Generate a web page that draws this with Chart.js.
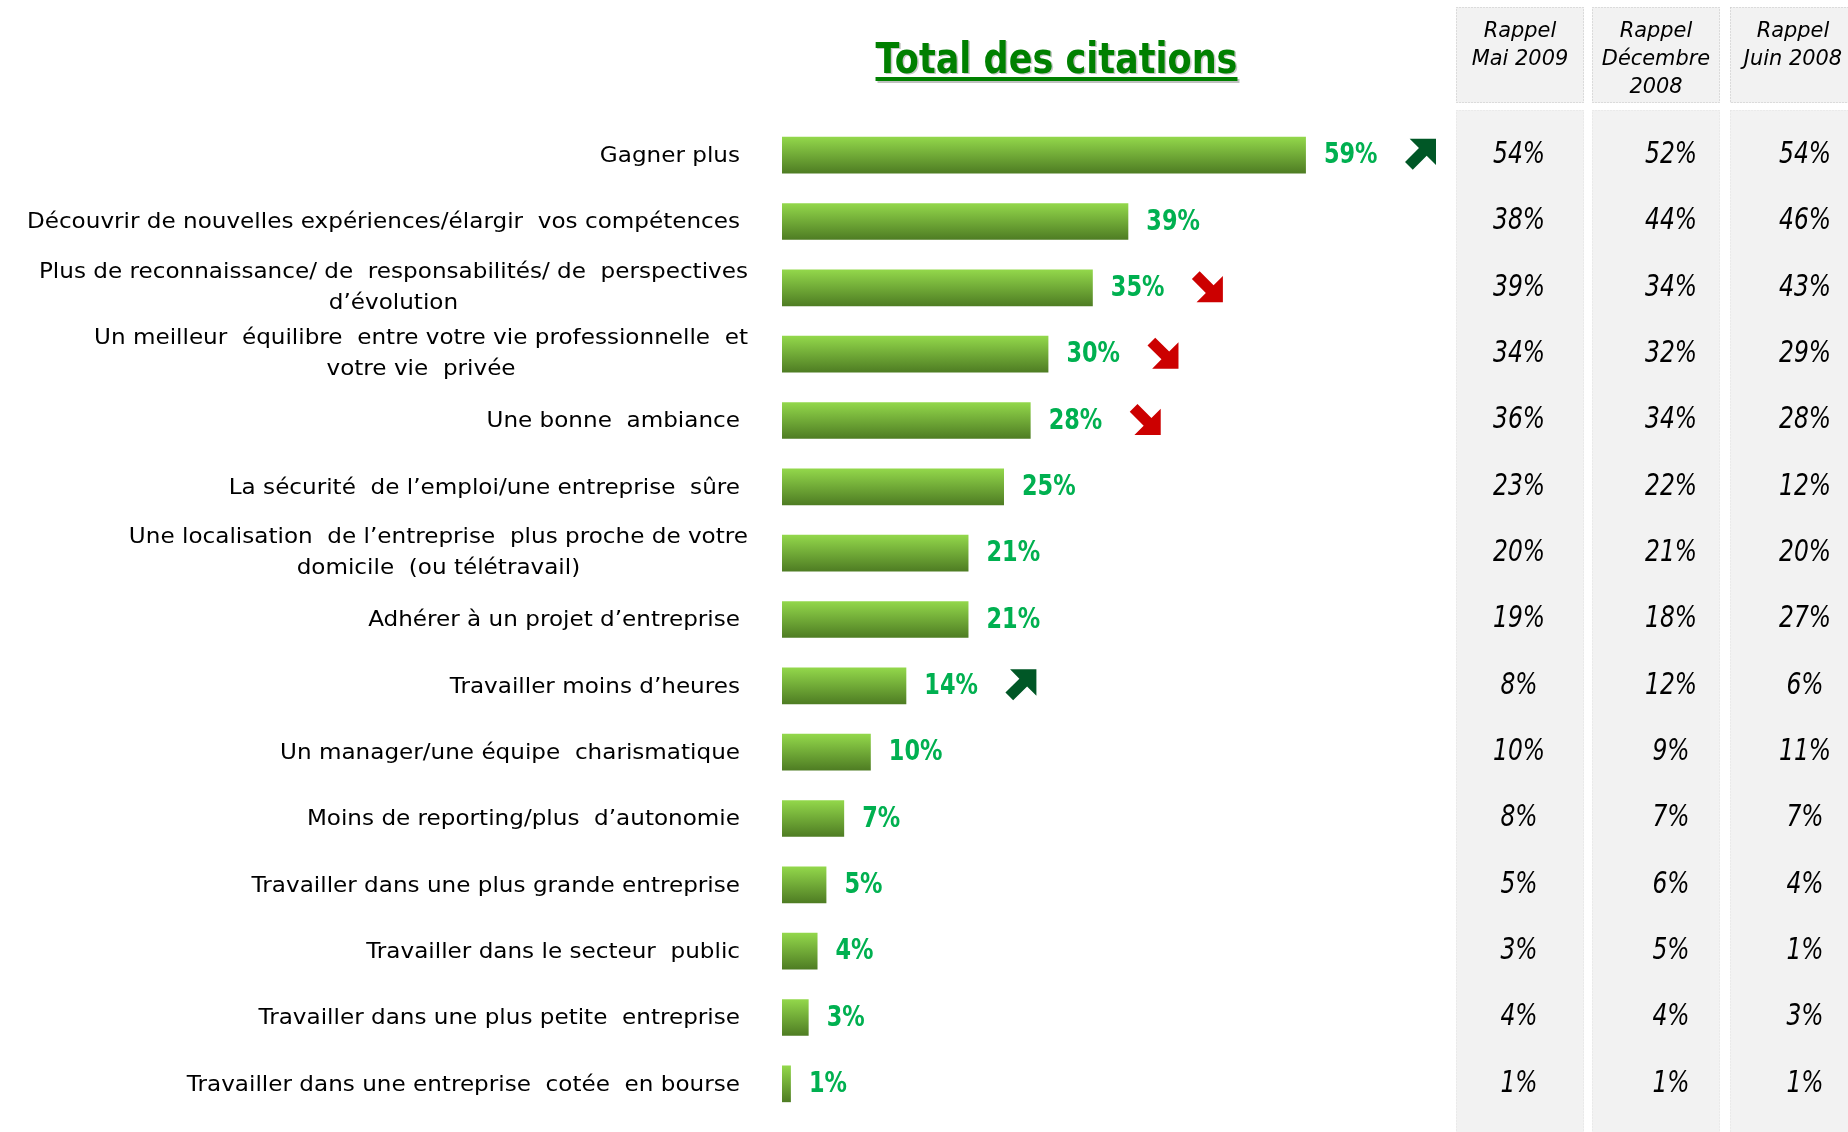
<!DOCTYPE html>
<html>
<head>
<meta charset="utf-8">
<script src="https://cdn.jsdelivr.net/npm/chart.js@4.4.1/dist/chart.umd.min.js"></script>
<style>
html,body{margin:0;padding:0;background:#fff;}
#wrap{width:1848px;height:1132px;position:relative;}
</style>
</head>
<body>
<div id="wrap"><canvas id="c" width="1848" height="1132"></canvas></div>
<script>
const chartTitle = 'Total des citations';
const categories = [
  'Gagner plus',
  'Découvrir de nouvelles expériences/élargir  vos compétences',
  ['Plus de reconnaissance/ de  responsabilités/ de  perspectives', 'd’évolution'],
  ['Un meilleur  équilibre  entre votre vie professionnelle  et', 'votre vie  privée'],
  'Une bonne  ambiance',
  'La sécurité  de l’emploi/une entreprise  sûre',
  ['Une localisation  de l’entreprise  plus proche de votre', 'domicile  (ou télétravail)'],
  'Adhérer à un projet d’entreprise',
  'Travailler moins d’heures',
  'Un manager/une équipe  charismatique',
  'Moins de reporting/plus  d’autonomie',
  'Travailler dans une plus grande entreprise',
  'Travailler dans le secteur  public',
  'Travailler dans une plus petite  entreprise',
  'Travailler dans une entreprise  cotée  en bourse'
];
const totalCitations = [59, 39, 35, 30, 28, 25, 21, 21, 14, 10, 7, 5, 4, 3, 1];
const trends = ['up', null, 'down', 'down', 'down', null, null, null, 'up', null, null, null, null, null, null];
const tableHeaders = [['Rappel', 'Mai 2009'], ['Rappel', 'Décembre', '2008'], ['Rappel', 'Juin 2008']];
const rappelMai2009 = [54, 38, 39, 34, 36, 23, 20, 19, 8, 10, 8, 5, 3, 4, 1];
const rappelDecembre2008 = [52, 44, 34, 32, 34, 22, 21, 18, 12, 9, 7, 6, 5, 4, 1];
const rappelJuin2008 = [54, 46, 43, 29, 28, 12, 20, 27, 6, 11, 7, 4, 1, 3, 1];
const tableColumns = [rappelMai2009, rappelDecembre2008, rappelJuin2008];

const BAR_PCT = 0.553;

function drawText(ctx, s, x, y, font, color, align, sx, baseline) {
  ctx.save();
  ctx.font = font;
  ctx.fillStyle = color;
  ctx.textBaseline = baseline || 'middle';
  ctx.textAlign = 'left';
  const w = ctx.measureText(s).width * sx;
  const left = align === 'right' ? x - w : (align === 'center' ? x - w / 2 : x);
  ctx.translate(left, y);
  ctx.scale(sx, 1);
  ctx.fillText(s, 0, 0);
  ctx.restore();
  return { left: left, right: left + w, width: w };
}

function drawArrow(ctx, cx, cy, dir, color) {
  const s = 31 / 28.3;
  const pts = [[-18, -5], [0, -5], [0, -17], [17, 0], [0, 17], [0, 5], [-18, 5]];
  const ang = dir === 'up' ? -Math.PI / 4 : Math.PI / 4;
  ctx.save();
  ctx.translate(cx + 2.1 * s, cy + (dir === 'up' ? -2.1 : 2.1) * s);
  ctx.rotate(ang);
  ctx.scale(s, s);
  ctx.beginPath();
  pts.forEach((p, i) => i ? ctx.lineTo(p[0], p[1]) : ctx.moveTo(p[0], p[1]));
  ctx.closePath();
  ctx.fillStyle = color;
  ctx.fill();
  ctx.restore();
}

const decorPlugin = {
  id: 'decor',
  beforeDatasetsDraw(chart) {
    const ctx = chart.ctx;
    const yScale = chart.scales.y;
    // table boxes
    const cols = [[1456, 1584], [1592, 1720], [1730, 1860]];
    ctx.save();
    cols.forEach(c => {
      ctx.fillStyle = '#f2f2f2';
      ctx.fillRect(c[0], 7, c[1] - c[0], 96);
      ctx.fillRect(c[0], 110, c[1] - c[0], 1040);
      ctx.setLineDash([1, 2]);
      ctx.lineWidth = 1;
      ctx.strokeStyle = '#c4c4c4';
      ctx.strokeRect(c[0] + 0.5, 7.5, c[1] - c[0] - 1, 95);
      ctx.strokeStyle = '#e2e2e2';
      ctx.strokeRect(c[0] + 0.5, 110.5, c[1] - c[0] - 1, 1040);
    });
    ctx.restore();
    // headers
    const headX = [1520, 1656, 1793];
    tableHeaders.forEach((lines, ci) => {
      lines.forEach((ln, li) => {
        drawText(ctx, ln, headX[ci], 36.5 + li * 28.3, 'oblique 22px "DejaVu Sans"', '#000', 'center', 0.95, 'alphabetic');
      });
    });
    // values
    const valX = [1519, 1671, 1805];
    tableColumns.forEach((col, ci) => {
      col.forEach((v, i) => {
        const y = yScale.getPixelForValue(i);
        drawText(ctx, v + '%', valX[ci], y, 'oblique 30px "DejaVu Sans"', '#000', 'center', 0.78);
      });
    });
    // category labels
    const font = '22px "DejaVu Sans"';
    const sx = 1.05;
    categories.forEach((lab, i) => {
      const y = yScale.getPixelForValue(i);
      if (Array.isArray(lab)) {
        ctx.font = font;
        const maxW = Math.max.apply(null, lab.map(l => ctx.measureText(l).width)) * sx;
        const cxl = 748 - maxW / 2;
        const lh = 31;
        lab.forEach((l, li) => {
          drawText(ctx, l, cxl, y + (li - (lab.length - 1) / 2) * lh, font, '#000', 'center', sx);
        });
      } else {
        drawText(ctx, lab, 740, y + 1, font, '#000', 'right', sx);
      }
    });
    // title
    drawText(ctx, chartTitle, 1058, 74, 'bold 42px "DejaVu Sans"', '#c8c8c8', 'center', 0.835, 'alphabetic');
    const t = drawText(ctx, chartTitle, 1056.5, 72.5, 'bold 42px "DejaVu Sans"', '#008000', 'center', 0.835, 'alphabetic');
    ctx.fillStyle = '#c0c0c0';
    ctx.fillRect(t.left + 2, 79, t.width, 4);
    ctx.fillStyle = '#008000';
    ctx.fillRect(t.left, 77, t.width, 4);
  },
  afterDatasetsDraw(chart) {
    const ctx = chart.ctx;
    const meta = chart.getDatasetMeta(0);
    meta.data.forEach((bar, i) => {
      const r = drawText(ctx, totalCitations[i] + '%', bar.x + 18, bar.y + 1, 'bold 28px "DejaVu Sans"', '#00b050', 'left', 0.8);
      if (trends[i]) {
        drawArrow(ctx, r.right + 28 + 15, bar.y - 1, trends[i], trends[i] === 'up' ? '#005726' : '#cc0000');
      }
    });
  }
};

new Chart(document.getElementById('c'), {
  type: 'bar',
  data: {
    labels: categories,
    datasets: [{
      data: totalCitations,
      borderWidth: 0,
      barPercentage: BAR_PCT,
      categoryPercentage: 1,
      backgroundColor: (c) => {
        const chart = c.chart;
        const ys = chart.scales && chart.scales.y;
        if (!chart.chartArea || !ys || c.dataIndex === undefined) return '#76b83a';
        const cy = ys.getPixelForValue(c.dataIndex);
        const band = Math.abs(ys.getPixelForValue(1) - ys.getPixelForValue(0));
        const h = band * BAR_PCT / 2;
        const g = chart.ctx.createLinearGradient(0, cy - h, 0, cy + h);
        g.addColorStop(0, '#93d84b');
        g.addColorStop(1, '#4e7c23');
        return g;
      }
    }]
  },
  options: {
    indexAxis: 'y',
    responsive: false,
    animation: false,
    layout: { padding: { left: 782, right: 400, top: 122, bottom: 15 } },
    scales: {
      x: { display: false, min: 0, max: 75 },
      y: { display: false }
    },
    plugins: {
      legend: { display: false },
      tooltip: { enabled: false }
    }
  },
  plugins: [decorPlugin]
});
</script>
</body>
</html>
